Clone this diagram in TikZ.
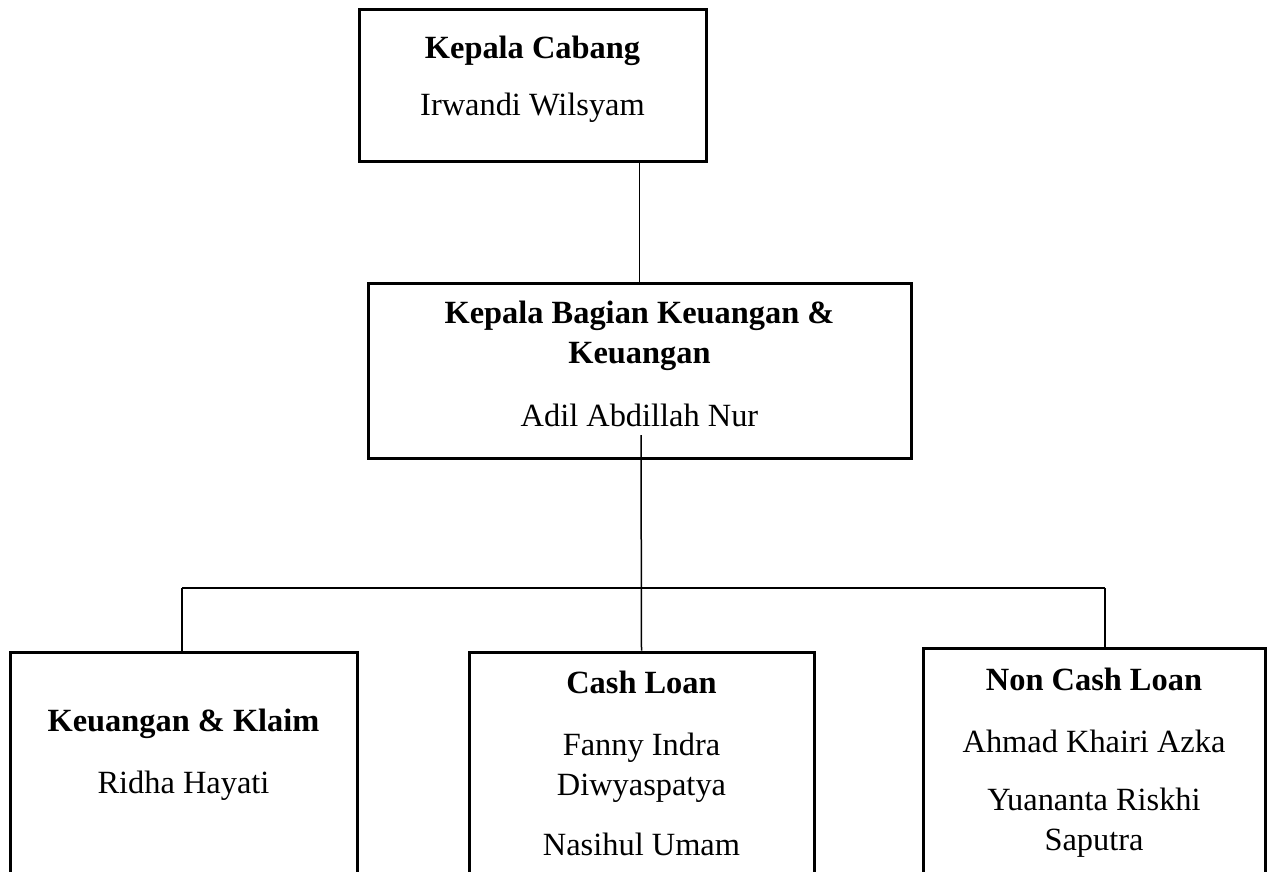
\documentclass[tikz,border=0pt]{standalone}
\usepackage{fontspec}
\setmainfont{Liberation Serif}

\begin{document}
\begin{tikzpicture}[x=0.5pt,y=-0.5pt]

\tikzset{unit/.style = {draw, line width=1.5pt, inner sep=0pt}}
\tikzset{txt/.style = {anchor=north, inner sep=0pt, align=center, font=\fontsize{16.2}{20}\selectfont}}
\tikzset{link/.style = {line width=0.75pt}}

\useasboundingbox (0,0) rectangle (1269,872);

%boxes
\node[unit, minimum width=173.5pt, minimum height=76pt] (kc) at (532.5,86) {};
\node[unit, minimum width=271.5pt, minimum height=87.5pt] (kb) at (639.5,370.5) {};
\node[unit, minimum width=173.5pt, minimum height=124pt] (kk) at (183.5,776) {};
\node[unit, minimum width=172.5pt, minimum height=124pt] (cl) at (641.5,776) {};
\node[unit, minimum width=171pt, minimum height=126pt] (ncl) at (1094,774) {};

%texts
\node[txt] (kctxt) at (532.5,36) {\textbf{Kepala Cabang}\\[8.5pt] Irwandi Wilsyam};
\node[txt] (kbtxt) at (639.5,301) {\textbf{Kepala Bagian Keuangan \&}\\ \textbf{Keuangan}\\[11.5pt] Adil Abdillah Nur};
\node[txt] (kktxt) at (183.5,709) {\textbf{Keuangan \& Klaim}\\[11pt] Ridha Hayati};
\node[txt] (cltxt) at (641.5,671) {\textbf{Cash Loan}\\[11pt] Fanny Indra\\ Diwyaspatya\\[10pt] Nasihul Umam};
\node[txt] (ncltxt) at (1094,668) {\textbf{Non Cash Loan}\\[11pt] Ahmad Khairi Azka\\[9pt] Yuananta Riskhi\\ Saputra};

%lines
\coordinate (hub) at (641,435);
\coordinate (busL) at (182,588);
\coordinate (busR) at (1105,588);
\draw[link] (kb.north) -- (kb.north |- kc.south);
\draw[link] (hub) -- (cl.north);
\draw[link] (busL) -- (busR);
\draw[link] (busL) -- (busL |- kk.north);
\draw[link] (busR) -- (busR |- ncl.north);

\end{tikzpicture}
\end{document}
